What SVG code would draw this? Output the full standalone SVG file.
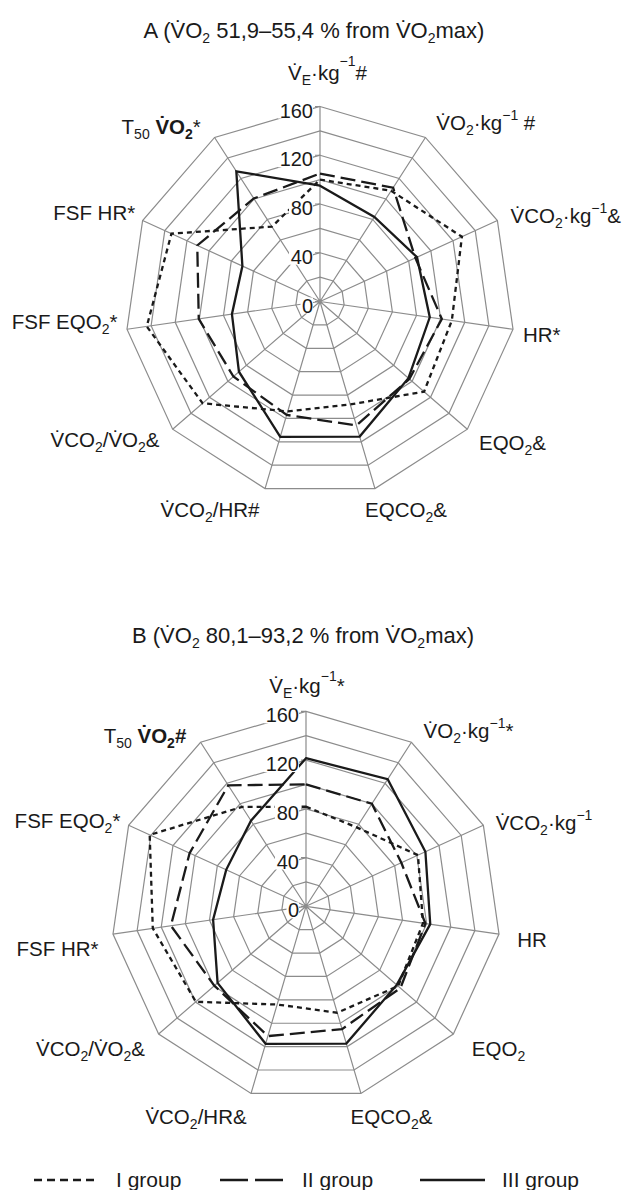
<svg xmlns="http://www.w3.org/2000/svg" xmlns:xlink="http://www.w3.org/1999/xlink" width="626" height="1190" viewBox="0 0 626 1190">
<style>
 .t{font-family:"Liberation Sans",Arial,sans-serif;fill:#1a1a1a}
 .ti{font-size:22px}
 .l{font-size:20.5px}
 .s{font-size:14px}
 .b{font-weight:bold}
 .tk{font-family:"Liberation Sans",Arial,sans-serif;font-size:20px;fill:#1a1a1a;text-anchor:end}
 .grid{fill:none;stroke:#8c8c8c;stroke-width:1.2}
 .ser{fill:none;stroke:#1a1a1a;stroke-width:2.3}
 .s1{stroke-dasharray:5 4}
 .s2{stroke-dasharray:15 6}
 .bg{fill:#ffffff}
</style>
<defs>
 <polygon id="ring" points="0,-195 105.42,-164.04 177.38,-81.01 193.01,27.75 147.37,127.70 54.94,187.10 -54.94,187.10 -147.37,127.70 -193.01,27.75 -177.38,-81.01 -105.42,-164.04" vector-effect="non-scaling-stroke"/>
 <g id="grid" class="grid">
  <use xlink:href="#ring" href="#ring" transform="scale(0.125)"/>
  <use xlink:href="#ring" href="#ring" transform="scale(0.25)"/>
  <use xlink:href="#ring" href="#ring" transform="scale(0.375)"/>
  <use xlink:href="#ring" href="#ring" transform="scale(0.5)"/>
  <use xlink:href="#ring" href="#ring" transform="scale(0.625)"/>
  <use xlink:href="#ring" href="#ring" transform="scale(0.75)"/>
  <use xlink:href="#ring" href="#ring" transform="scale(0.875)"/>
  <use xlink:href="#ring" href="#ring"/>
  <path d="M0,0L0,-195M0,0L105.42,-164.04M0,0L177.38,-81.01M0,0L193.01,27.75M0,0L147.37,127.70M0,0L54.94,187.10M0,0L-54.94,187.10M0,0L-147.37,127.70M0,0L-193.01,27.75M0,0L-177.38,-81.01M0,0L-105.42,-164.04"/>
  <path d="M-5,0H0M-5,-48.75H0M-5,-97.5H0M-5,-146.25H0M-5,-195H0"/>
 </g>
 <g id="ticks">
  <rect class="bg" x="-42" y="-199" width="35" height="16"/>
  <rect class="bg" x="-42" y="-150.25" width="35" height="16"/>
  <rect class="bg" x="-31" y="-101.5" width="24" height="16"/>
  <rect class="bg" x="-31" y="-52.75" width="24" height="16"/>
  <rect class="bg" x="-19.5" y="-4" width="12.5" height="16"/>
  <text class="tk" x="-7" y="-184">160</text>
  <text class="tk" x="-7" y="-135.25">120</text>
  <text class="tk" x="-7" y="-86.5">80</text>
  <text class="tk" x="-7" y="-37.75">40</text>
  <text class="tk" x="-7" y="11">0</text>
 </g>
</defs>

<g id="chartA" transform="translate(320,301.5)">
 <use xlink:href="#grid" href="#grid"/>
 <g id="seriesA">
  <polygon id="A-I" class="ser s1" points="0,-121.9 71.16,-110.73 141.90,-64.81 131.85,18.96 104.08,90.19 30.22,102.91 -32.28,109.92 -117.44,101.76 -173.23,24.91 -148.56,-67.84 -48.10,-74.85"/>
  <polygon id="A-II" class="ser s2" points="0,-127.97 73.14,-113.80 95.34,-43.54 121.84,17.52 89.34,77.42 36.40,123.96 -33.31,113.43 -86.58,75.02 -121.24,17.43 -122.73,-56.05 -66.22,-103.04"/>
  <polygon id="A-III" class="ser" points="0,-115.78 54.36,-84.59 97.00,-44.30 109.78,15.78 88.42,76.62 39.66,135.07 -39.73,135.30 -81.05,70.23 -88.06,12.66 -77.60,-35.44 -83.68,-130.21"/>
 </g>
 <use xlink:href="#ticks" href="#ticks"/>
</g>

<g id="chartB" transform="translate(306,906.3)">
 <use xlink:href="#grid" href="#grid"/>
 <g id="seriesB">
  <polygon id="B-I" class="ser s1" points="0,-99.57 50.73,-78.94 111.97,-51.13 117.02,16.82 92.11,79.81 31.25,106.42 -28.84,98.23 -110.16,95.45 -153.20,22.03 -156.31,-71.39 -63.91,-99.45"/>
  <polygon id="B-II" class="ser s2" points="0,-121.88 65.89,-102.53 95.34,-43.54 119.43,17.17 94.41,81.81 36.05,122.78 -38.11,129.80 -91.65,79.41 -135.11,19.43 -116.40,-53.16 -77.75,-120.98"/>
  <polygon id="B-III" class="ser" points="0,-148.08 81.71,-127.14 119.40,-54.53 124.25,17.86 90.73,78.62 40.31,137.28 -40.38,137.52 -88.42,76.62 -92.89,13.35 -79.82,-36.45 -55.02,-85.61"/>
 </g>
 <use xlink:href="#ticks" href="#ticks"/>
</g>

<g id="labelsA" class="t l" text-anchor="middle">
 <text class="ti" x="314" y="38.3">A (V&#x307;O<tspan class="s" dy="5">2</tspan><tspan dy="-5"> 51,9–55,4 % from V&#x307;O</tspan><tspan class="s" dy="5">2</tspan><tspan dy="-5">max)</tspan></text>
 <text x="327.5" y="80">V&#x307;<tspan class="s" dy="5">E</tspan><tspan dy="-5">·kg</tspan><tspan class="s" dy="-14">−1</tspan><tspan dy="14">#</tspan></text>
 <text x="485.8" y="130">V&#x307;O<tspan class="s" dy="5">2</tspan><tspan dy="-5">·kg</tspan><tspan class="s" dy="-10">−1</tspan><tspan dy="10"> #</tspan></text>
 <text x="565.8" y="223.3">V&#x307;CO<tspan class="s" dy="5">2</tspan><tspan dy="-5">·kg</tspan><tspan class="s" dy="-10">−1</tspan><tspan dy="10">&amp;</tspan></text>
 <text x="541.8" y="341.7">HR*</text>
 <text x="512.5" y="450">EQO<tspan class="s" dy="5">2</tspan><tspan dy="-5">&amp;</tspan></text>
 <text x="406" y="517.3">EQCO<tspan class="s" dy="5">2</tspan><tspan dy="-5">&amp;</tspan></text>
 <text x="210" y="517.3">V&#x307;CO<tspan class="s" dy="5">2</tspan><tspan dy="-5">/HR#</tspan></text>
 <text x="105" y="446.7">V&#x307;CO<tspan class="s" dy="5">2</tspan><tspan dy="-5">/V&#x307;O</tspan><tspan class="s" dy="5">2</tspan><tspan dy="-5">&amp;</tspan></text>
 <text x="64.6" y="329.3">FSF EQO<tspan class="s" dy="5">2</tspan><tspan dy="-5">*</tspan></text>
 <text x="94.2" y="220">FSF HR*</text>
 <text x="161.2" y="134.3">T<tspan class="s" dy="5">50</tspan><tspan class="b" dy="-5"> V&#x307;O</tspan><tspan class="s b" dy="5">2</tspan><tspan dy="-5">*</tspan></text>
</g>

<g id="labelsB" class="t l" text-anchor="middle">
 <text class="ti" x="303" y="643.3">B (V&#x307;O<tspan class="s" dy="5">2</tspan><tspan dy="-5"> 80,1–93,2 % from V&#x307;O</tspan><tspan class="s" dy="5">2</tspan><tspan dy="-5">max)</tspan></text>
 <text x="307" y="693.3">V&#x307;<tspan class="s" dy="5">E</tspan><tspan dy="-5">·kg</tspan><tspan class="s" dy="-12">−1</tspan><tspan dy="12">*</tspan></text>
 <text x="468.5" y="738.3">V&#x307;O<tspan class="s" dy="5">2</tspan><tspan dy="-5">·kg</tspan><tspan class="s" dy="-10">−1</tspan><tspan dy="10">*</tspan></text>
 <text x="544" y="830">V&#x307;CO<tspan class="s" dy="5">2</tspan><tspan dy="-5">·kg</tspan><tspan class="s" dy="-10">−1</tspan></text>
 <text x="532" y="946.7">HR</text>
 <text x="498.5" y="1055.7">EQO<tspan class="s" dy="5">2</tspan></text>
 <text x="391.5" y="1124.3">EQCO<tspan class="s" dy="5">2</tspan><tspan dy="-5">&amp;</tspan></text>
 <text x="196" y="1124.3">V&#x307;CO<tspan class="s" dy="5">2</tspan><tspan dy="-5">/HR&amp;</tspan></text>
 <text x="90.5" y="1056">V&#x307;CO<tspan class="s" dy="5">2</tspan><tspan dy="-5">/V&#x307;O</tspan><tspan class="s" dy="5">2</tspan><tspan dy="-5">&amp;</tspan></text>
 <text x="57.5" y="956">FSF HR*</text>
 <text x="67.5" y="828.3">FSF EQO<tspan class="s" dy="5">2</tspan><tspan dy="-5">*</tspan></text>
 <text x="145" y="743.3">T<tspan class="s" dy="5">50</tspan><tspan class="b" dy="-5"> V&#x307;O</tspan><tspan class="s b" dy="5">2</tspan><tspan class="b" dy="-5">#</tspan></text>
</g>

<g id="legend">
 <line class="ser s1" x1="34" y1="1180" x2="94" y2="1180" style="stroke-dasharray:8 5"/>
 <text class="t" x="116" y="1187" font-size="21">I group</text>
 <line class="ser s2" x1="220" y1="1180" x2="283" y2="1180" style="stroke-dasharray:28 7"/>
 <text class="t" x="302" y="1187" font-size="21">II group</text>
 <line class="ser" x1="420" y1="1180" x2="485" y2="1180"/>
 <text class="t" x="502" y="1187" font-size="21">III group</text>
</g>
</svg>
